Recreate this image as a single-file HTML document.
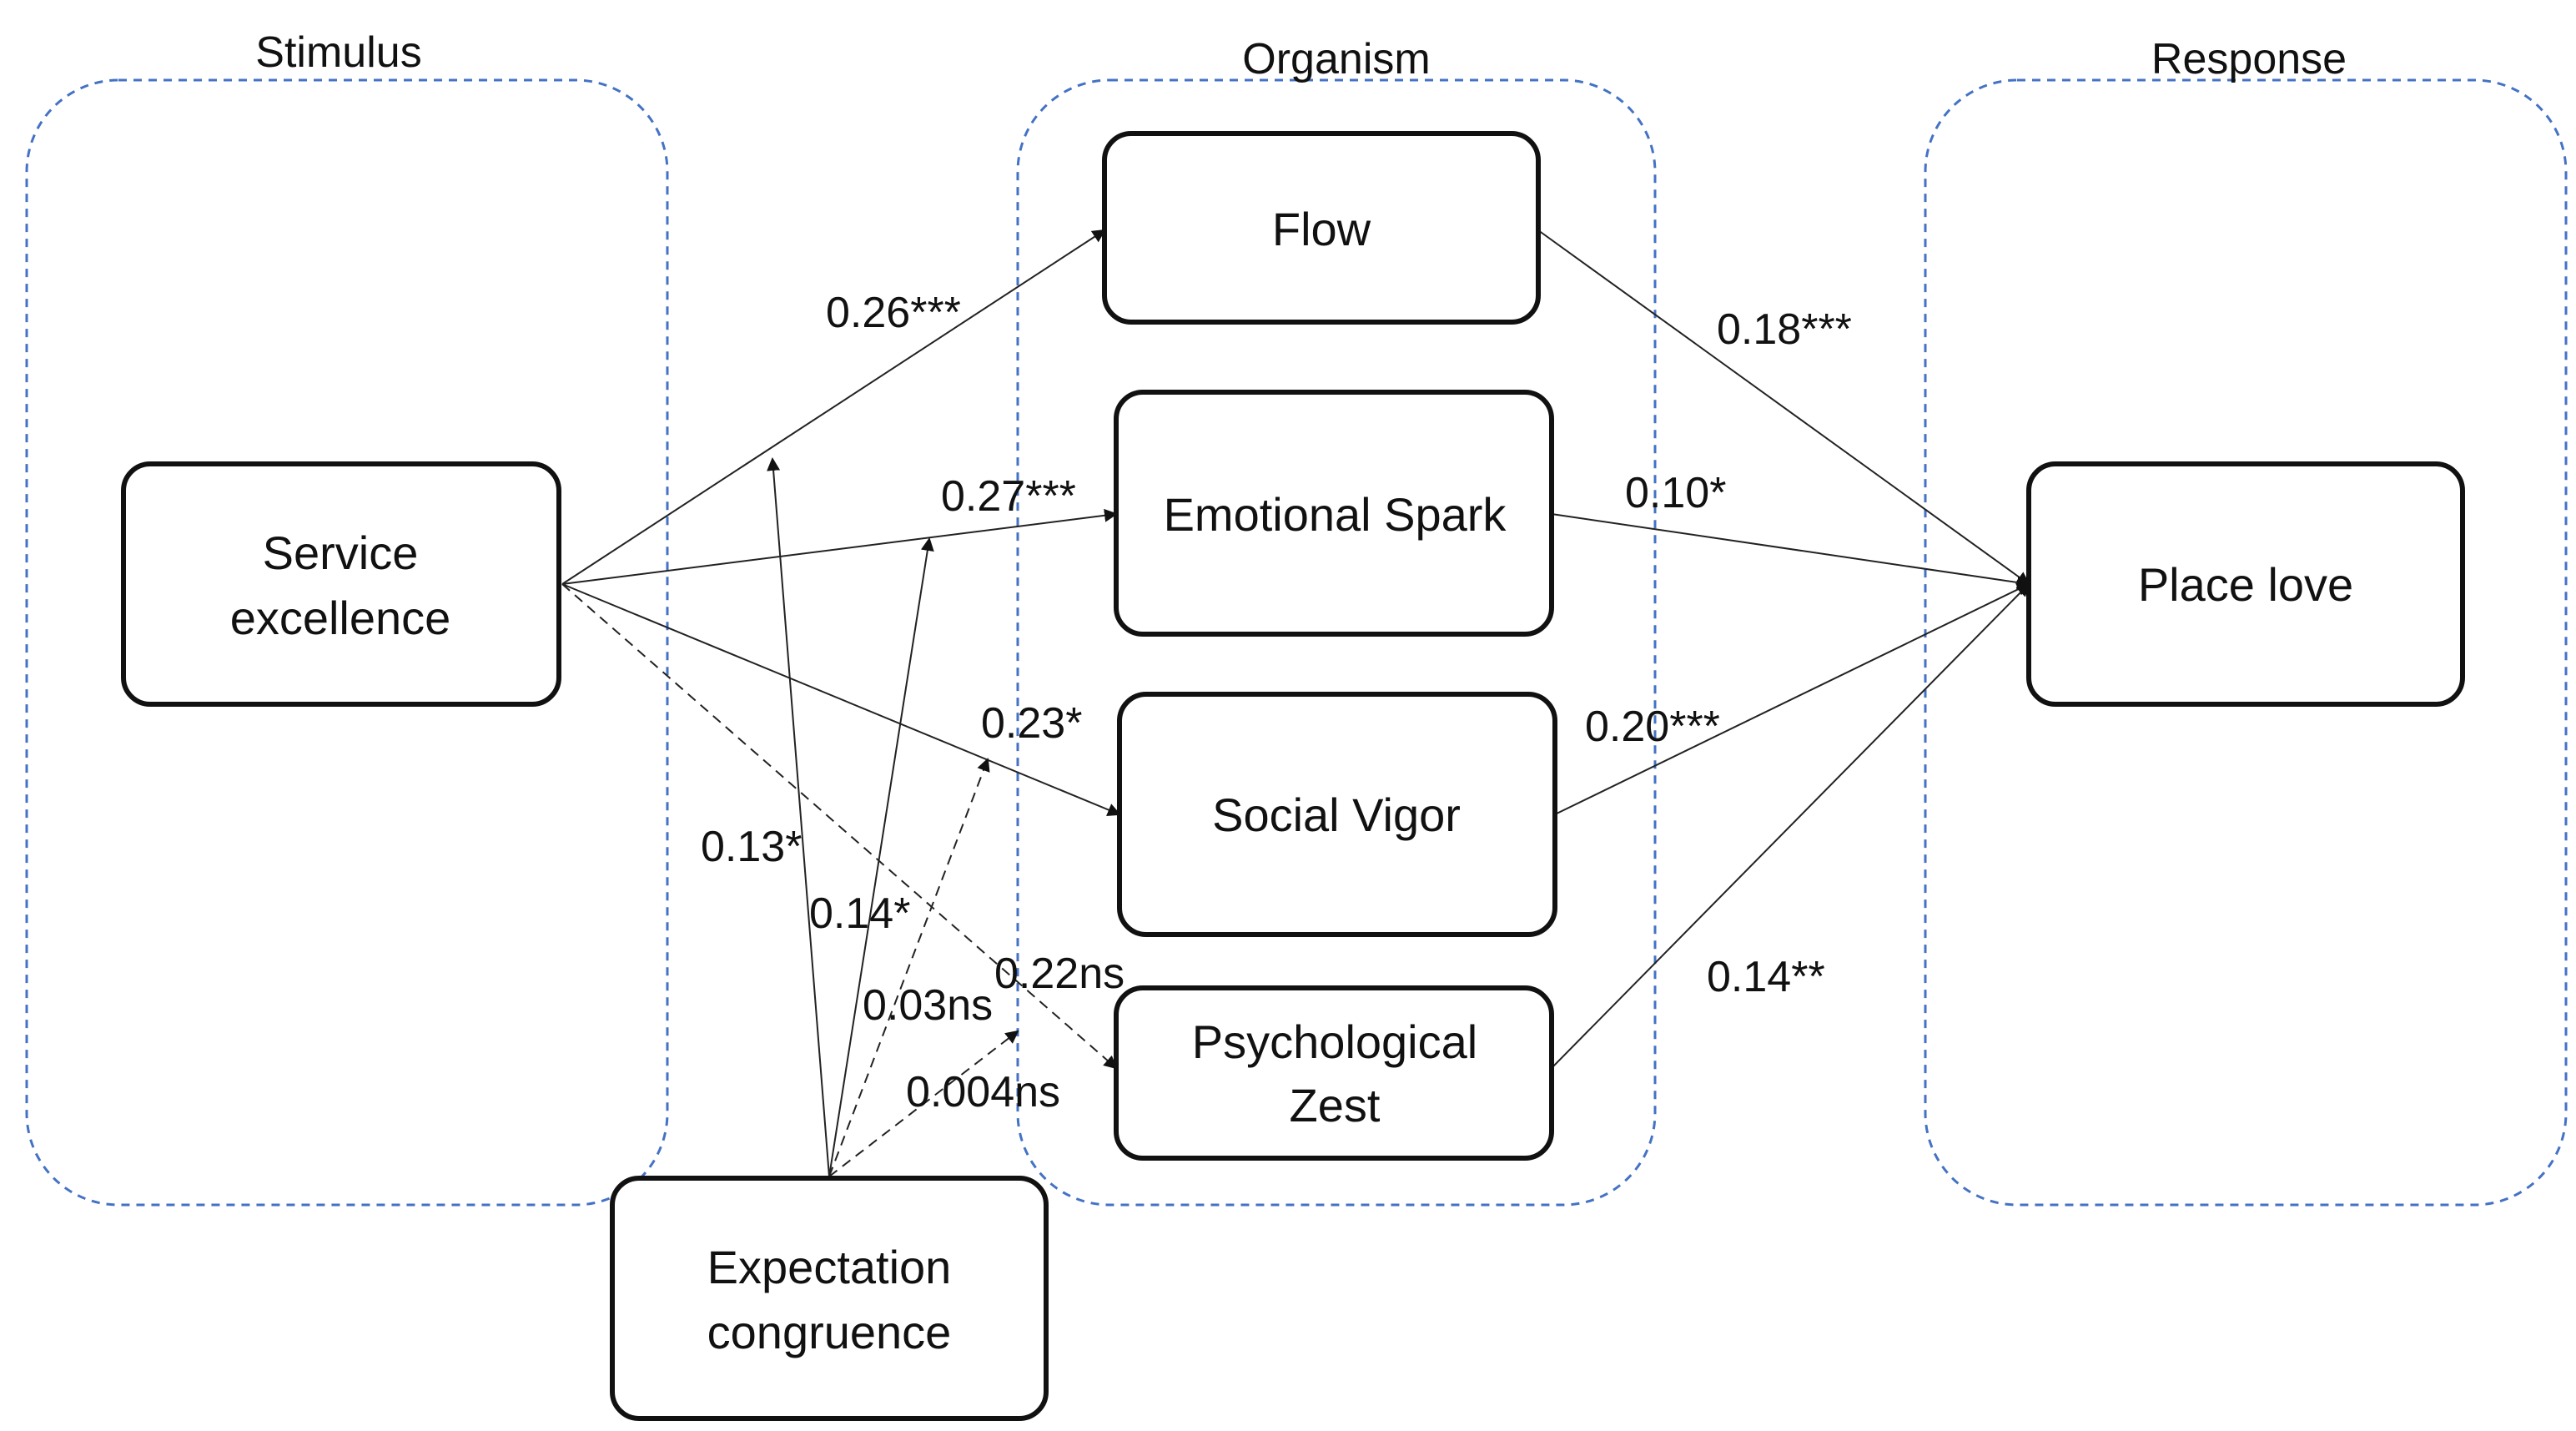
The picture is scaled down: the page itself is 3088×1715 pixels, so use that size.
<!DOCTYPE html>
<html><head><meta charset="utf-8"><style>
html,body{margin:0;padding:0;background:#fff;}
svg{display:block;}
text{font-family:"Liberation Sans",sans-serif;fill:#111;}
</style></head><body>
<svg width="3088" height="1715" viewBox="0 0 1544 857.5" xmlns="http://www.w3.org/2000/svg">
<defs>
<marker id="a" markerWidth="8" markerHeight="8" refX="7" refY="4" orient="auto" markerUnits="userSpaceOnUse">
<path d="M0,0 L8,4 L0,8 z" fill="#111"/></marker>
</defs>
<g fill="none" stroke="#4472c4" stroke-width="1.5" stroke-dasharray="5,4">
<rect x="16" y="48" width="384" height="674" rx="55"/>
<rect x="610" y="48" width="382" height="674" rx="55"/>
<rect x="1154" y="48" width="384" height="674" rx="55"/>
</g>
<g font-size="26" text-anchor="middle">
<text x="203" y="40">Stimulus</text>
<text x="801" y="44">Organism</text>
<text x="1348" y="44">Response</text>
</g>
<g stroke="#222" stroke-width="1" fill="none" marker-end="url(#a)">
<line x1="337" y1="350" x2="662" y2="138"/>
<line x1="337" y1="350" x2="669" y2="308"/>
<line x1="337" y1="350" x2="671" y2="488"/>
<line x1="337" y1="350" x2="669" y2="640" stroke-dasharray="6,4"/>
<line x1="497" y1="705" x2="463" y2="275"/>
<line x1="497" y1="705" x2="557" y2="323"/>
<line x1="497" y1="705" x2="592" y2="455" stroke-dasharray="6,4"/>
<line x1="497" y1="705" x2="610" y2="618" stroke-dasharray="6,4"/>
<line x1="922" y1="138" x2="1216" y2="350"/>
<line x1="930" y1="308" x2="1216" y2="350"/>
<line x1="932" y1="488" x2="1216" y2="350"/>
<line x1="930" y1="640" x2="1216" y2="350"/>
</g>
<g fill="#fff" stroke="#111" stroke-width="3">
<rect x="74" y="278" width="261" height="144" rx="16"/>
<rect x="662" y="80" width="260" height="113" rx="16"/>
<rect x="669" y="235" width="261" height="145" rx="16"/>
<rect x="671" y="416" width="261" height="144" rx="16"/>
<rect x="669" y="592" width="261" height="102" rx="16"/>
<rect x="1216" y="278" width="260" height="144" rx="16"/>
<rect x="367" y="706" width="260" height="144" rx="16"/>
</g>
<g font-size="28" text-anchor="middle">
<text x="204" y="341">Service</text>
<text x="204" y="380">excellence</text>
<text x="792" y="147">Flow</text>
<text x="800" y="318">Emotional Spark</text>
<text x="801" y="498">Social Vigor</text>
<text x="800" y="634">Psychological</text>
<text x="800" y="672">Zest</text>
<text x="1346" y="360">Place love</text>
<text x="497" y="769">Expectation</text>
<text x="497" y="808">congruence</text>
</g>
<g font-size="26">
<text x="495" y="196">0.26***</text>
<text x="564" y="306">0.27***</text>
<text x="588" y="442">0.23*</text>
<text x="420" y="516">0.13*</text>
<text x="485" y="556">0.14*</text>
<text x="596" y="592">0.22ns</text>
<text x="517" y="611">0.03ns</text>
<text x="543" y="663">0.004ns</text>
<text x="1029" y="206">0.18***</text>
<text x="974" y="304">0.10*</text>
<text x="950" y="444">0.20***</text>
<text x="1023" y="594">0.14**</text>
</g>
</svg>
</body></html>
